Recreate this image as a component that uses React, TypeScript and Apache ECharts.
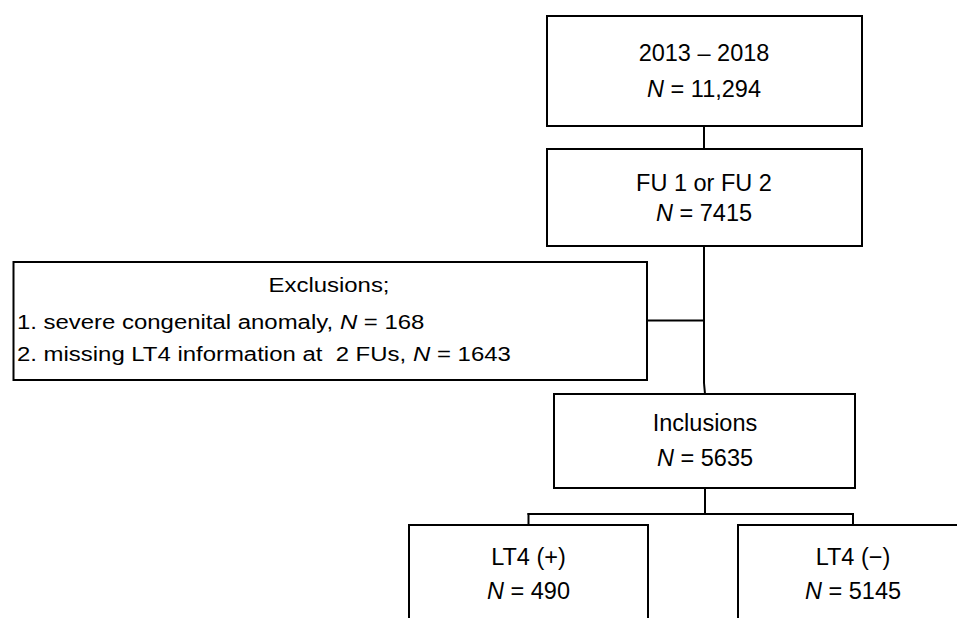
import React, { useEffect, useRef } from "react";
import * as echarts from "echarts";

// ---- data ----
const boxTitles = ["2013 – 2018", "FU 1 or FU 2", "Inclusions", "LT4 (+)", "LT4 (−)"];
const boxCounts = [11294, 7415, 5635, 490, 5145];
const exclusionTitle = "Exclusions;";
const exclusionReasons = ["severe congenital anomaly", "missing LT4 information at  2 FUs"];
const exclusionCounts = [168, 1643];

const FONT = '"Liberation Sans", Arial, Helvetica, sans-serif';
const fmt = (n: number) => (n >= 10000 ? n.toLocaleString("en-US") : String(n));

// layout: [x, y, w, h, centerX, titleY, countY]
const boxLayout = [
  [547, 16, 315, 110, 704, 53, 89],
  [547, 149, 315, 97, 704, 183, 212.5],
  [554, 394, 301, 94, 705, 423, 458],
  [409, 525, 239, 120, 528.5, 557, 591],
  [738, 525, 232, 120, 853, 557, 591],
];

function rich(size: number) {
  return {
    i: { fontStyle: "italic", fontSize: size, fontFamily: FONT, fill: "#000" },
    r: { fontSize: size, fontFamily: FONT, fill: "#000" },
  };
}

function textEl(x: number, y: number, text: string, align: string, size: number, scaleX = 1) {
  return {
    type: "text",
    x,
    y,
    scaleX,
    style: {
      text,
      rich: rich(size),
      fontSize: size,
      fontFamily: FONT,
      fill: "#000",
      textAlign: align,
      align,
      textVerticalAlign: "middle",
      verticalAlign: "middle",
    },
  };
}

function lineEl(x1: number, y1: number, x2: number, y2: number) {
  return {
    type: "line",
    shape: { x1, y1, x2, y2 },
    style: { stroke: "#000", lineWidth: 2 },
  };
}

export default function App() {
  const ref = useRef<HTMLDivElement>(null);
  useEffect(() => {
    if (!ref.current) return;
    const chart = echarts.init(ref.current, undefined, { renderer: "svg" });
    const elements: any[] = [];

    // connectors
    elements.push(lineEl(704, 126, 704, 149));
    elements.push(lineEl(704, 246, 704, 383));
    elements.push(lineEl(704, 383, 705, 394));
    elements.push(lineEl(647, 320.5, 704, 320.5));
    elements.push(lineEl(705, 488, 705, 514));
    elements.push(lineEl(527.5, 514, 854, 514));
    elements.push(lineEl(528.5, 513, 528.5, 525));
    elements.push(lineEl(853, 513, 853, 525));

    boxTitles.forEach((title, i) => {
      const [x, y, w, h, cx, ty, ny] = boxLayout[i];
      elements.push({
        type: "rect",
        shape: { x, y, width: w, height: h },
        style: { fill: "#fff", stroke: "#000", lineWidth: 2 },
      });
      elements.push(textEl(cx, ty, `{r|${title}}`, "center", 23.5));
      elements.push(textEl(cx, ny, `{i|N}{r| = ${fmt(boxCounts[i])}}`, "center", 23.5));
    });

    // exclusion box
    elements.push({
      type: "rect",
      shape: { x: 13.5, y: 262, width: 633.5, height: 118 },
      style: { fill: "#fff", stroke: "#000", lineWidth: 2 },
    });
    elements.push(textEl(329, 285, `{r|${exclusionTitle}}`, "center", 21, 1.14));
    exclusionReasons.forEach((reason, i) => {
      elements.push(
        textEl(
          17,
          322.5 + i * 31.5,
          `{r|${i + 1}. ${reason}, }{i|N}{r| = ${fmt(exclusionCounts[i])}}`,
          "left",
          21,
          1.14
        )
      );
    });

    chart.setOption({
      animation: false,
      backgroundColor: "#fff",
      graphic: { elements },
    });
    return () => chart.dispose();
  }, []);
  return (
    <div
      ref={ref}
      style={{ position: "fixed", left: 0, top: 0, width: 957, height: 618, background: "#fff" }}
    />
  );
}
